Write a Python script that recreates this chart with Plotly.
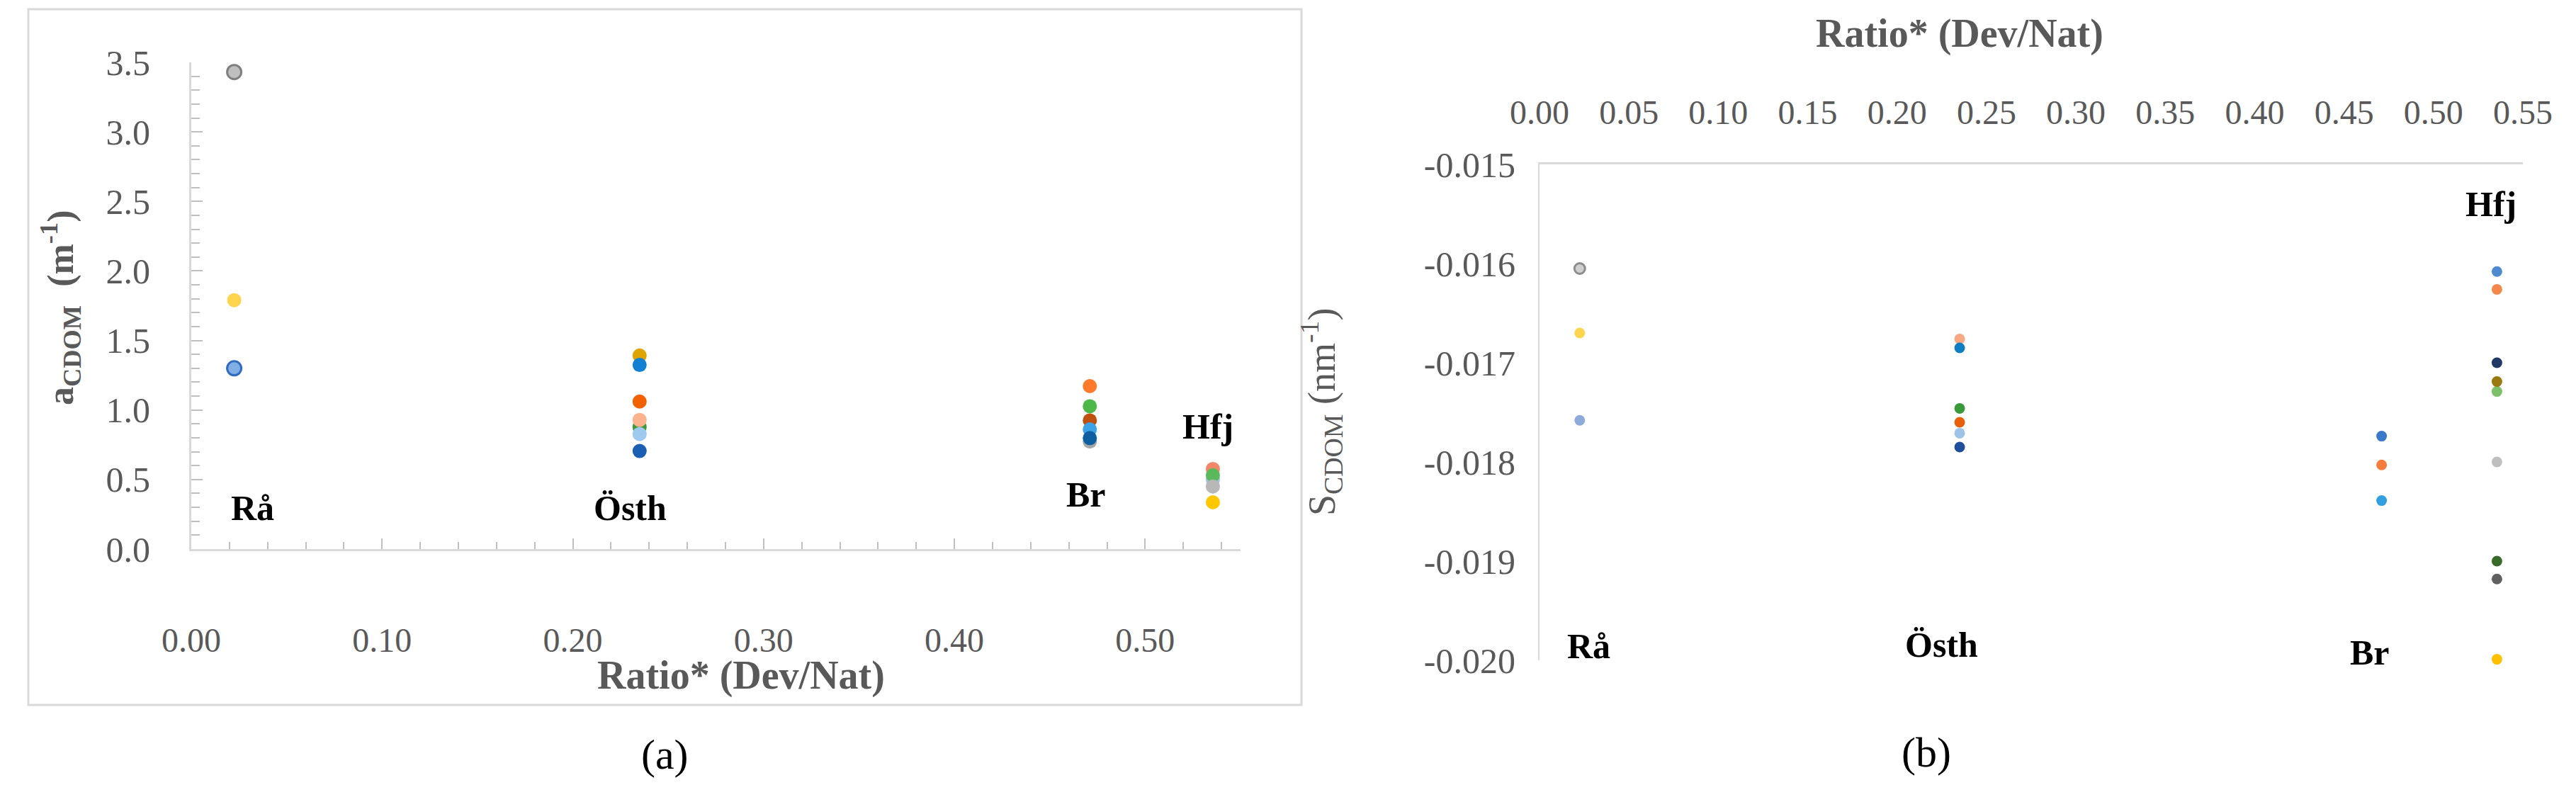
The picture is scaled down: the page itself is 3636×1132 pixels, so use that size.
import plotly.graph_objects as go

W, H = 3636, 1132

# ---------------- data ----------------
site_names = ["Rå", "Östh", "Br", "Hfj"]
site_ratio = [0.0225, 0.235, 0.471, 0.5355]

# panel (a): aCDOM (m-1)
a_ra = [3.43, 1.79, 1.30]
a_ra_colors = ["#bfbfbf", "#ffd44f", "#82aee6"]
a_ra_lines = ["#7f7f7f", "#ffd44f", "#2f6cc0"]
a_osth = [0.878, 1.392, 1.324, 1.061, 0.929, 0.827, 0.705]
a_osth_colors = ["#3c9a3c", "#e0a400", "#0f80d2", "#f26100", "#ffb28e", "#9fcaf0", "#1a5fb4"]
a_br = [0.773, 1.172, 1.027, 0.925, 0.861, 0.798]
a_br_colors = ["#a6a6a6", "#ff7a2a", "#4db848", "#c0500e", "#3da2e6", "#0e5fa0"]
a_hfj = [0.576, 0.50, 0.531, 0.45, 0.336]
a_hfj_colors = ["#f4866a", "#9dc3e6", "#5cb85c", "#b8b8b8", "#ffc700"]

# panel (b): SCDOM (nm-1)
s_ra = [-0.01605, -0.01670, -0.01758]
s_ra_colors = ["#cfcfcf", "#ffd44f", "#8eaadb"]
s_ra_lines = ["#8c8c8c", "#ffd44f", "#8eaadb"]
s_osth = [-0.01746, -0.01676, -0.01685, -0.01760, -0.01771, -0.01785]
s_osth_colors = ["#3a9a3a", "#f8a882", "#0f7dc2", "#e8600a", "#9dc3e6", "#1f4e9a"]
s_br = [-0.01774, -0.01803, -0.01839]
s_br_colors = ["#3a78c9", "#f47c3c", "#32a0e0"]
s_hfj = [-0.01608, -0.01626, -0.01700, -0.01729, -0.01719, -0.01800, -0.01900, -0.01918, -0.01999]
s_hfj_colors = ["#4e8ad0", "#f4884a", "#1f3864", "#7cc06a", "#9a7a10", "#bfbfbf", "#3a6a2a", "#606060", "#ffc000"]

# axis ticks
a_xticks = [0.0, 0.1, 0.2, 0.3, 0.4, 0.5]
a_xticktext = ["0.00", "0.10", "0.20", "0.30", "0.40", "0.50"]
a_yticks = [0.0, 0.5, 1.0, 1.5, 2.0, 2.5, 3.0, 3.5]
a_yticktext = ["0.0", "0.5", "1.0", "1.5", "2.0", "2.5", "3.0", "3.5"]
b_xticks = [0.0, 0.05, 0.1, 0.15, 0.2, 0.25, 0.3, 0.35, 0.4, 0.45, 0.5, 0.55]
b_xticktext = ["0.00", "0.05", "0.10", "0.15", "0.20", "0.25", "0.30", "0.35", "0.40", "0.45", "0.50", "0.55"]
b_yticks = [-0.020, -0.019, -0.018, -0.017, -0.016, -0.015]
b_yticktext = ["-0.020", "-0.019", "-0.018", "-0.017", "-0.016", "-0.015"]

# site label positions (data coords)
a_label_x = [0.032, 0.230, 0.469, 0.533]
a_label_y = [0.295, 0.295, 0.39, 0.88]
b_label_x = [0.0277, 0.225, 0.4645, 0.532]
b_label_y = [-0.01986, -0.01984, -0.01992, -0.01540]

SERIF = "Liberation Serif, Times New Roman, serif"
GREY = "#595959"

fig = go.Figure()


def add_pts(xval, ys, colors, xa, ya, size, lines=None, lw=None):
    fig.add_trace(go.Scatter(
        x=[xval] * len(ys), y=ys, mode="markers", xaxis=xa, yaxis=ya,
        showlegend=False, cliponaxis=False, hoverinfo="skip",
        marker=dict(size=size, color=colors,
                    line=dict(color=lines if lines else colors,
                              width=lw if lw is not None else 0)),
    ))


# panel a
add_pts(site_ratio[0], a_ra, a_ra_colors, "x", "y", 20, a_ra_lines, [3, 0, 3])
add_pts(site_ratio[1], a_osth, a_osth_colors, "x", "y", 20)
add_pts(site_ratio[2], a_br, a_br_colors, "x", "y", 20)
add_pts(site_ratio[3], a_hfj, a_hfj_colors, "x", "y", 20)
# panel b
add_pts(site_ratio[0], s_ra, s_ra_colors, "x2", "y2", 15, s_ra_lines, [3, 0, 0])
add_pts(site_ratio[1], s_osth, s_osth_colors, "x2", "y2", 15)
add_pts(site_ratio[2], s_br, s_br_colors, "x2", "y2", 15)
add_pts(site_ratio[3], s_hfj, s_hfj_colors, "x2", "y2", 15)

tickfont = dict(family=SERIF, size=48, color=GREY)

fig.update_layout(
    width=W, height=H,
    margin=dict(l=0, r=0, t=0, b=0, autoexpand=False),
    paper_bgcolor="white", plot_bgcolor="white",
    xaxis=dict(domain=[270 / W, 1751 / W], range=[0, 0.55], anchor="y", automargin=False,
               showgrid=False, zeroline=False, showline=True, linecolor="#d9d9d9", linewidth=3,
               tickvals=a_xticks, ticktext=a_xticktext, ticks="inside", ticklen=15, tickwidth=2,
               tickcolor="#bfbfbf", tickfont=tickfont, ticklabelstandoff=84,
               minor=dict(dtick=0.02, ticks="inside", ticklen=10, tickwidth=2, tickcolor="#bfbfbf")),
    yaxis=dict(domain=[1 - 775 / H, 1 - 88 / H], range=[0, 3.5], anchor="x", automargin=False,
               showgrid=False, zeroline=False, showline=True, linecolor="#d9d9d9", linewidth=3,
               tickvals=a_yticks, ticktext=a_yticktext, ticks="inside", ticklen=16, tickwidth=2,
               tickcolor="#bfbfbf", tickfont=dict(family=SERIF, size=50, color=GREY),
               ticklabelstandoff=45,
               minor=dict(dtick=0.1, ticks="inside", ticklen=12, tickwidth=2, tickcolor="#bfbfbf")),
    xaxis2=dict(domain=[2173 / W, 3561 / W], range=[0, 0.55], anchor="y2", side="top", automargin=False,
                showgrid=False, zeroline=False, showline=True, linecolor="#d9d9d9", linewidth=3,
                tickvals=b_xticks, ticktext=b_xticktext, ticks="", tickfont=tickfont,
                ticklabelstandoff=35),
    yaxis2=dict(domain=[1 - 932 / H, 1 - 232 / H], range=[-0.020, -0.015], anchor="x2", automargin=False,
                showgrid=False, zeroline=False, showline=True, linecolor="#d9d9d9", linewidth=2,
                tickvals=b_yticks, ticktext=b_yticktext, ticks="",
                tickfont=dict(family=SERIF, size=50, color=GREY), ticklabelstandoff=22),
)

# frame around panel (a)
fig.add_shape(type="rect", xref="paper", yref="paper",
              x0=40 / W, x1=1837 / W, y0=1 - 995 / H, y1=1 - 13 / H,
              line=dict(color="#d9d9d9", width=3), fillcolor="rgba(0,0,0,0)", layer="below")

ann = []


def pann(text, px, py, size, color, bold=False, angle=0):
    ann.append(dict(text=("<b>" + text + "</b>") if bold else text,
                    x=px / W, y=1 - py / H, xref="paper", yref="paper",
                    xanchor="center", yanchor="middle", textangle=angle, showarrow=False,
                    font=dict(family=SERIF, size=size, color=color)))


# axis titles
pann("Ratio* (Dev/Nat)", 1046, 953, 56, GREY, bold=True)
pann("a<sub>CDOM</sub>  (m<sup>-1</sup>)", 85, 434, 52, GREY, bold=True, angle=-90)
pann("Ratio* (Dev/Nat)", 2766, 48, 56, GREY, bold=True)
pann("S<sub>CDOM</sub> (nm<sup>-1</sup>)", 1865, 582, 54, GREY, angle=-90)
# panel letters
pann("(a)", 938, 1065, 60, "black")
pann("(b)", 2719, 1062, 60, "black")
# site labels
for name, lx, ly in zip(site_names, a_label_x, a_label_y):
    ann.append(dict(text="<b>" + name + "</b>", x=lx, y=ly, xref="x", yref="y", showarrow=False,
                    xanchor="center", yanchor="middle",
                    font=dict(family=SERIF, size=50, color="black")))
for name, lx, ly in zip(site_names, b_label_x, b_label_y):
    ann.append(dict(text="<b>" + name + "</b>", x=lx, y=ly, xref="x2", yref="y2", showarrow=False,
                    xanchor="center", yanchor="middle",
                    font=dict(family=SERIF, size=50, color="black")))
fig.update_layout(annotations=ann)

fig.write_html("out.html", config={"displayModeBar": False},
               post_script="document.body.style.margin='0';")
